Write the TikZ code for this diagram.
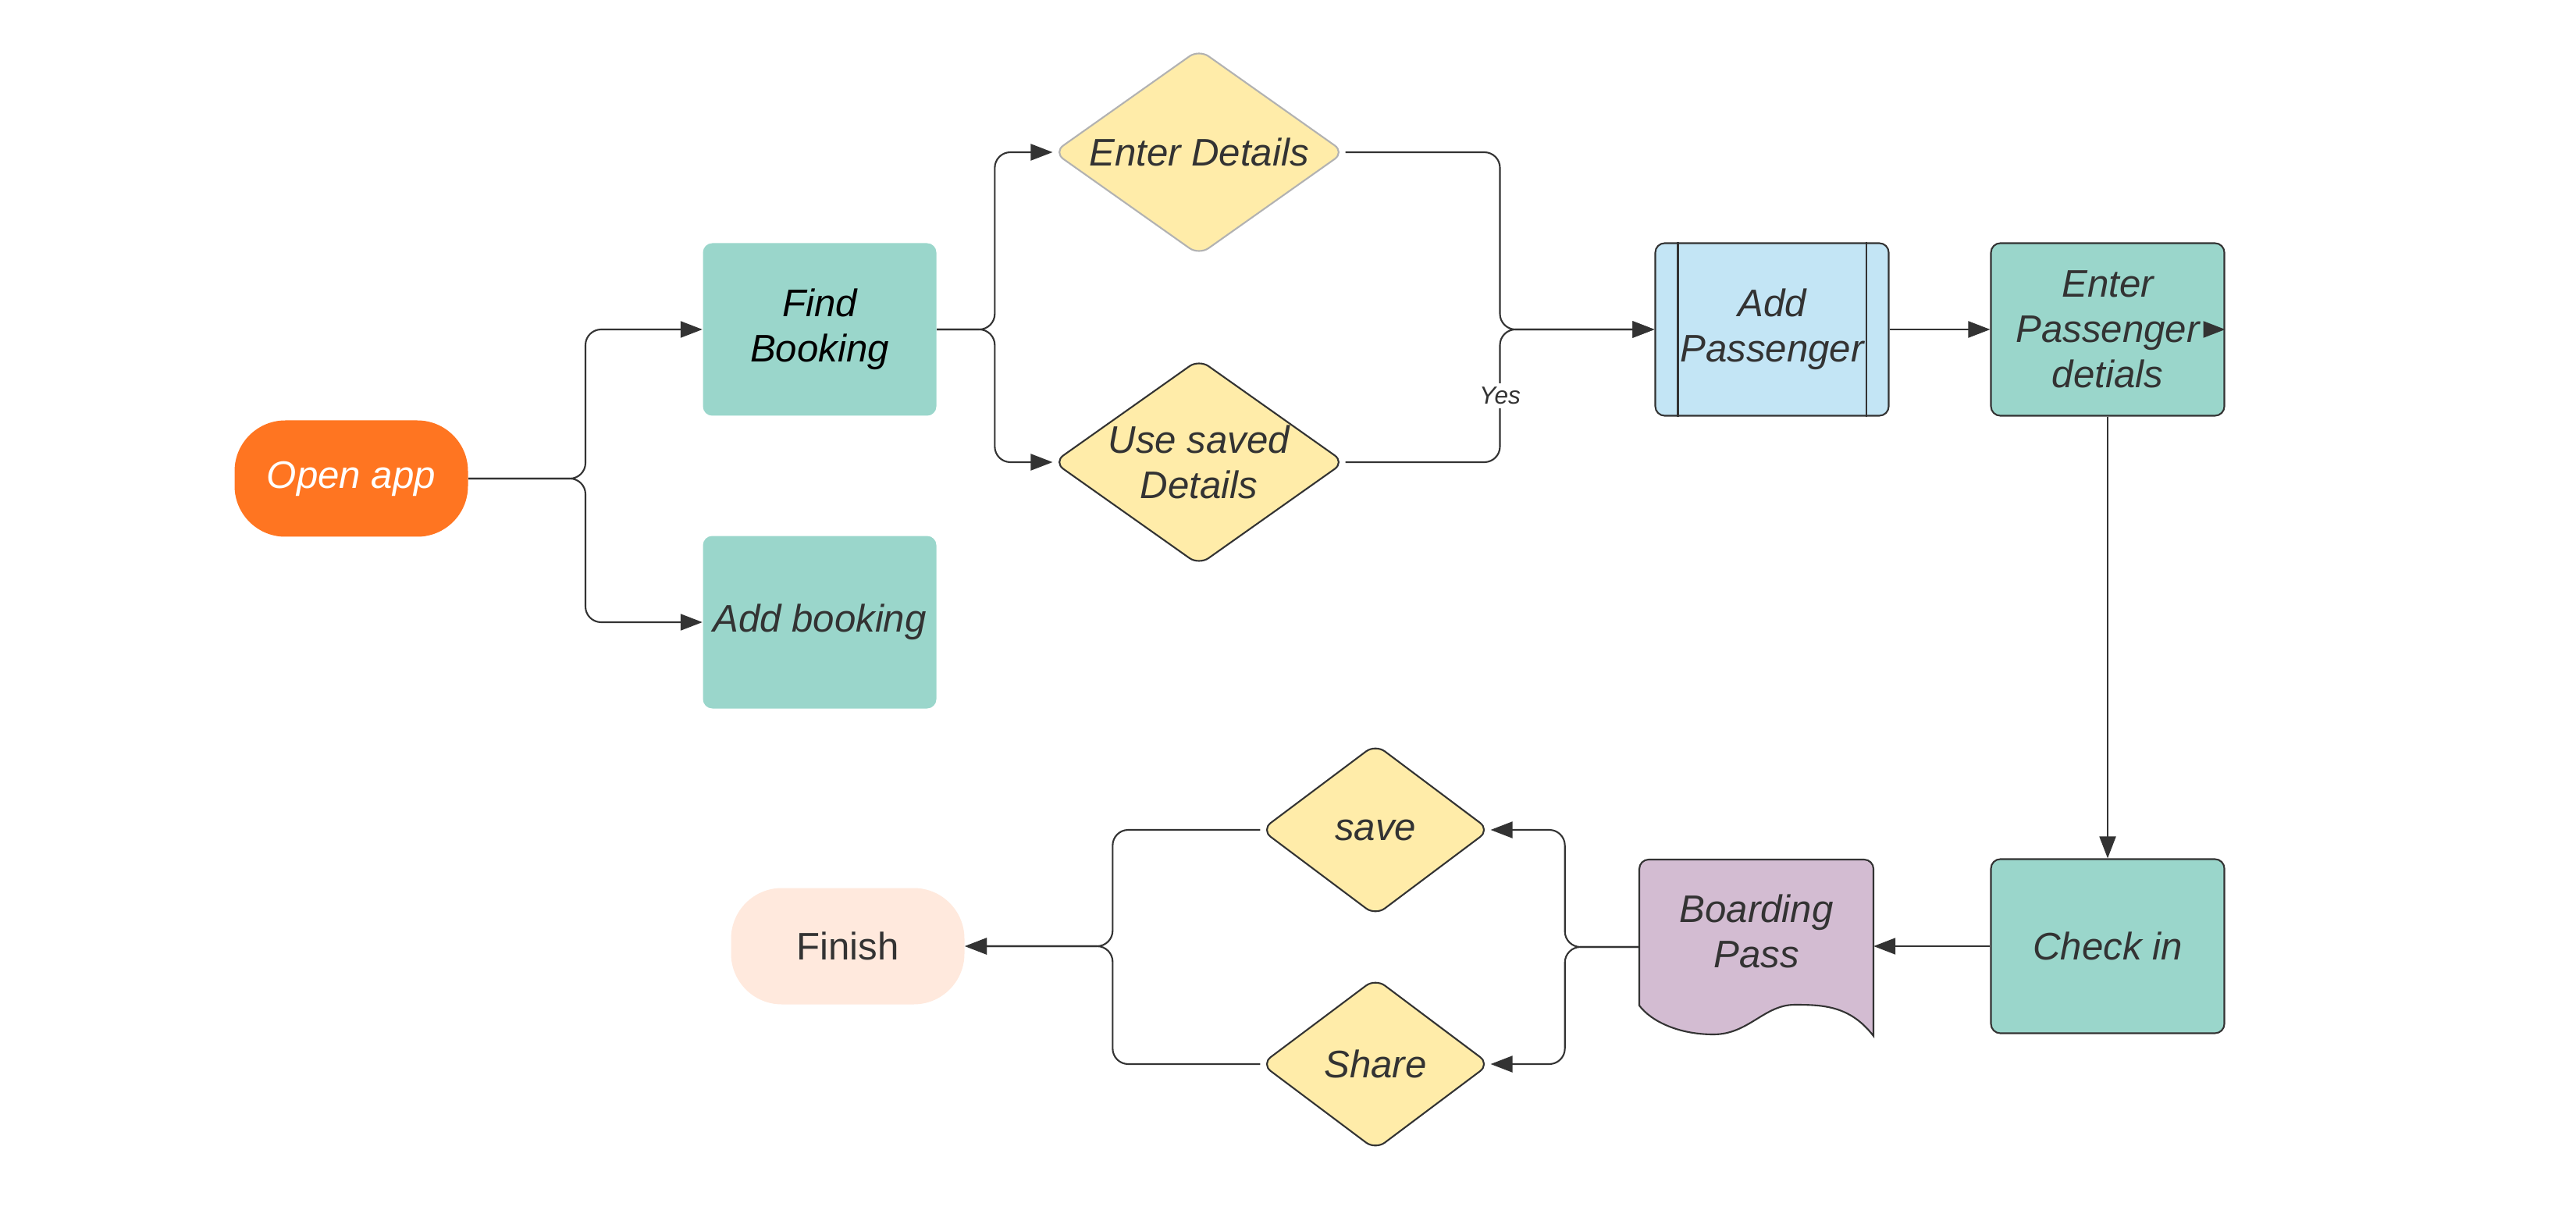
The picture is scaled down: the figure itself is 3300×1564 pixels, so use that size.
\documentclass[tikz,border=0pt]{standalone}
\usepackage{fontspec}
\setmainfont{Liberation Sans}
\usetikzlibrary{shapes.geometric,arrows.meta,calc}

\definecolor{apporange}{HTML}{FF7521}
\definecolor{stepteal}{HTML}{9AD6CB}
\definecolor{askyellow}{HTML}{FFECA9}
\definecolor{subblue}{HTML}{C3E5F5}
\definecolor{docpurple}{HTML}{D3BCD2}
\definecolor{endpeach}{HTML}{FFE9DD}
\definecolor{inkgray}{HTML}{333333}

\begin{document}
\begin{tikzpicture}[x=0.1mm,y=-0.1mm,
    every node/.style={font=\itshape\fontsize{14}{16.5}\selectfont, text=inkgray, align=center},
    terminal/.style={rectangle, rounded corners=6.5mm, minimum width=29.9mm, minimum height=14.9mm},
    stepbox/.style={rectangle, rounded corners=1.2mm, fill=stepteal, minimum width=29.9mm, minimum height=22.1mm},
    edged/.style={draw=inkgray, line width=0.6pt},
    ask/.style={diamond, rounded corners=1.5mm, fill=askyellow, inner sep=0pt, edged},
    conn/.style={draw=inkgray, line width=0.6pt, rounded corners=2mm, -{Triangle[length=2.8mm,width=2.1mm]}}]
    \useasboundingbox (0,0) rectangle (3300,1564);

    % top row
    \node[terminal, fill=apporange, text=white] (open) at (450,613) {Open app};
    \node[stepbox, text=black] (find) at (1050,422) {Find\\Booking};
    \node[stepbox] (addb) at (1050,797) {Add booking};
    \node[ask, draw=black!30, minimum width=37.3mm, minimum height=26.4mm, shape aspect=1.41] (enter) at (1536,195) {Enter Details};
    \node[ask, minimum width=37.3mm, minimum height=26.4mm, shape aspect=1.41] (saved) at (1536,592) {Use saved\\Details};
    \node[stepbox, fill=subblue, edged] (addp) at (2270,422) {Add\\Passenger};
    \draw[edged] ([xshift=3mm]addp.north west) -- ([xshift=3mm]addp.south west);
    \draw[edged] ([xshift=-3mm]addp.north east) -- ([xshift=-3mm]addp.south east);
    \node[stepbox, edged] (pdet) at (2700,422) {Enter\\Passenger\\detials};

    % bottom row
    \node[stepbox, edged, minimum height=22.3mm] (check) at (2700,1212) {Check in};
    \node[minimum width=29.9mm, minimum height=22.5mm] (bpass) at (2250,1213) {};
    \begin{scope}[shift={(bpass.center)}]
        \draw[edged, fill=docpurple] (-150,75) [rounded corners=1.2mm] -- (-150,-112) -- (150,-112) [sharp corners] -- (150,114)
            .. controls (120,75) and (85,74) .. (49,74)
            .. controls (10,74) and (-10,112) .. (-55,112)
            .. controls (-100,112) and (-135,95) .. cycle;
    \end{scope}
    \node (bptext) at ([yshift=2mm]bpass.center) {Boarding\\Pass};
    \node[ask, minimum width=29.3mm, minimum height=22mm, shape aspect=1.33] (save) at (1762,1063) {save};
    \node[ask, minimum width=29.3mm, minimum height=22mm, shape aspect=1.33] (share) at (1762,1363) {Share};
    \node[terminal, fill=endpeach, font=\fontsize{14}{16.5}\selectfont] (fin) at (1086,1212) {Finish};

    % connectors
    \draw[conn] (open.east) -| ($(open.east)!.5!(find.west)$) |- (find.west);
    \draw[conn] (open.east) -| ($(open.east)!.5!(addb.west)$) |- (addb.west);
    \draw[conn] (find.east) -| ($(find.east)!.5!(enter.west)$) |- (enter.west);
    \draw[conn] (find.east) -| ($(find.east)!.5!(saved.west)$) |- (saved.west);
    \draw[conn] (enter.east) -| ($(enter.east)!.5!(addp.west)$) |- (addp.west);
    \draw[conn] (saved.east) -| ($(saved.east)!.5!(addp.west)$) |- (addp.west);
    \node[fill=white, inner sep=1.5pt, font=\itshape\fontsize{9}{10}\selectfont] (yes) at ($(saved.east)!.5!(addp.west)$) {Yes};
    \draw[conn] (addp.east) -- (pdet.west);
    \draw[conn] ([xshift=-2.8mm]pdet.east) -- (pdet.east);
    \draw[conn] (pdet.south) -- (check.north);
    \draw[conn] (check.west) -- (check.west -| bpass.east);
    \draw[conn] (bpass.west) -| ($(bpass.west)!.5!(save.east)$) |- (save.east);
    \draw[conn] (bpass.west) -| ($(bpass.west)!.5!(share.east)$) |- (share.east);
    \draw[conn] (save.west) -| ($(save.west)!.5!(fin.east)$) |- (fin.east);
    \draw[conn] (share.west) -| ($(share.west)!.5!(fin.east)$) |- (fin.east);
\end{tikzpicture}
\end{document}
